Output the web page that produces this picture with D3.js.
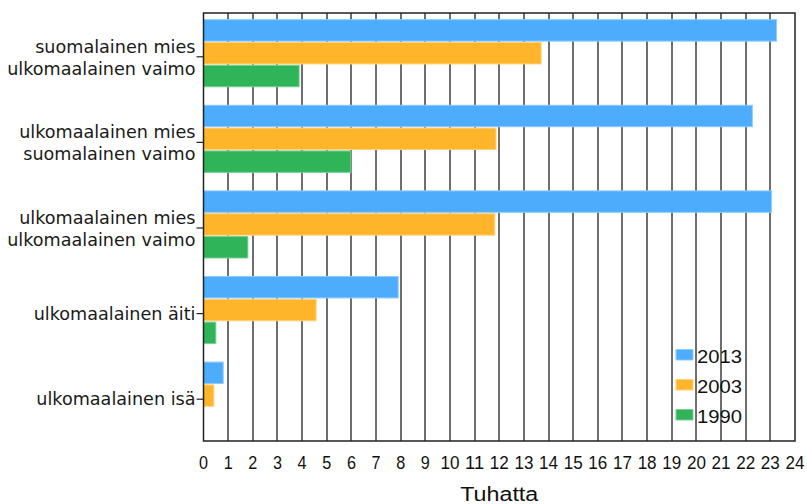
<!DOCTYPE html>
<html>
<head>
<meta charset="utf-8">
<script src="https://cdn.jsdelivr.net/npm/d3@7"></script>
<style>
  body { margin: 0; background: #fff; }
  svg { display: block; font-family: "DejaVu Sans", sans-serif; }
</style>
</head>
<body>
<div id="chart"></div>
<script>
var categories = [
  ["suomalainen mies", "ulkomaalainen vaimo"],
  ["ulkomaalainen mies", "suomalainen vaimo"],
  ["ulkomaalainen mies", "ulkomaalainen vaimo"],
  ["ulkomaalainen äiti"],
  ["ulkomaalainen isä"]
];
var seriesNames = ["2013", "2003", "1990"];
var values2013 = [23.25, 22.27, 23.05, 7.9, 0.8];
var values2003 = [13.7, 11.87, 11.82, 4.57, 0.42];
var values1990 = [3.88, 5.98, 1.8, 0.5, 0];
var xTicks = d3.range(0, 25);
var colors = ["#4dadfc", "#ffb52a", "#30b459"];
var strokes = ["#8ecbff", "#ffd27f", "#79cf93"];

var width = 807, height = 504;
var plotLeft = 203.5, plotRight = 795, plotTop = 13, plotBottom = 441;

var svg = d3.select("#chart").append("svg")
  .attr("width", width)
  .attr("height", height);

var x = d3.scaleLinear().domain([0, 24]).range([plotLeft, plotRight]);
var y0 = d3.scaleBand().domain(d3.range(categories.length)).range([plotTop, plotBottom]);
var y1 = d3.scaleBand().domain(seriesNames)
  .range([y0.bandwidth() * 0.078, y0.bandwidth() * 0.862]).paddingInner(0.06);

var data = categories.map(function(c, i) {
  return [values2013[i], values2003[i], values1990[i]]
    .map((v, j) => ({v: v, j: j}))
    .filter(d => d.v > 0);
});

/* gridlines */
svg.append("g")
  .selectAll("line")
  .data(xTicks.slice(1, -1)).enter()
  .append("line")
  .attr("x1", d => Math.round(x(d)))
  .attr("x2", d => Math.round(x(d)))
  .attr("y1", plotTop)
  .attr("y2", plotBottom)
  .attr("stroke", "#6e6e6e")
  .attr("stroke-width", 2);

/* bars */
var groups = svg.append("g")
  .selectAll("g")
  .data(data).enter()
  .append("g")
  .attr("transform", (d, i) => `translate(0, ${y0(i)})`);

groups.selectAll("rect")
  .data(d => d).enter()
  .append("rect")
  .attr("x", x(0))
  .attr("y", d => y1(seriesNames[d.j]))
  .attr("width", d => x(d.v) - x(0))
  .attr("height", y1.bandwidth())
  .attr("fill", d => colors[d.j])
  .attr("stroke", d => strokes[d.j])
  .attr("stroke-width", 1);

/* frame */
svg.append("rect")
  .attr("x", plotLeft)
  .attr("y", plotTop)
  .attr("width", plotRight - plotLeft)
  .attr("height", plotBottom - plotTop)
  .attr("fill", "none")
  .attr("stroke", "#222")
  .attr("stroke-width", 1.5);

/* y axis ticks and labels */
var yAxis = svg.append("g");
categories.forEach(function(lines, i) {
  var cy = y0(i) + y0.bandwidth() / 2;
  yAxis.append("line")
    .attr("x1", plotLeft - 7).attr("x2", plotLeft)
    .attr("y1", cy + 1).attr("y2", cy + 1)
    .attr("stroke", "#222").attr("stroke-width", 1.2);
  var t = yAxis.append("text")
    .attr("text-anchor", "end")
    .attr("font-size", 17.6)
    .attr("fill", "#1a1a1a");
  var offsets = lines.length == 2 ? [-3, 19] : [7];
  lines.forEach(function(l, k) {
    t.append("tspan")
      .attr("x", plotLeft - 8)
      .attr("y", cy + offsets[k])
      .text(l);
  });
});

/* x axis labels */
svg.append("g")
  .selectAll("text")
  .data(xTicks).enter()
  .append("text")
  .attr("x", d => x(d) - (d < 10 ? 4.5 : 9.5))
  .attr("y", 469)
  .attr("font-size", 18.5)
  .attr("font-family", "Liberation Sans, sans-serif")
  .attr("fill", "#111")
  .attr("textLength", d => d < 10 ? 9 : 19)
  .attr("lengthAdjust", "spacingAndGlyphs")
  .text(d => d);

svg.append("text")
  .attr("x", (plotLeft + plotRight) / 2)
  .attr("y", 501)
  .attr("text-anchor", "middle")
  .attr("font-size", 20)
  .attr("font-family", "Liberation Sans, sans-serif")
  .attr("fill", "#111")
  .attr("textLength", 78)
  .attr("lengthAdjust", "spacingAndGlyphs")
  .text("Tuhatta");

/* legend */
var legend = svg.append("g")
  .selectAll("g")
  .data(seriesNames).enter()
  .append("g")
  .attr("transform", (d, i) => `translate(676, ${349.5 + i * 30})`);

legend.append("rect")
  .attr("width", 17)
  .attr("height", 10.5)
  .attr("fill", (d, i) => colors[i])
  .attr("stroke", (d, i) => strokes[i]);

legend.append("text")
  .attr("x", 21)
  .attr("y", 13)
  .attr("font-size", 18.5)
  .attr("font-family", "Liberation Sans, sans-serif")
  .attr("fill", "#111")
  .attr("textLength", 45)
  .attr("lengthAdjust", "spacingAndGlyphs")
  .text(d => d);
</script>
</body>
</html>
